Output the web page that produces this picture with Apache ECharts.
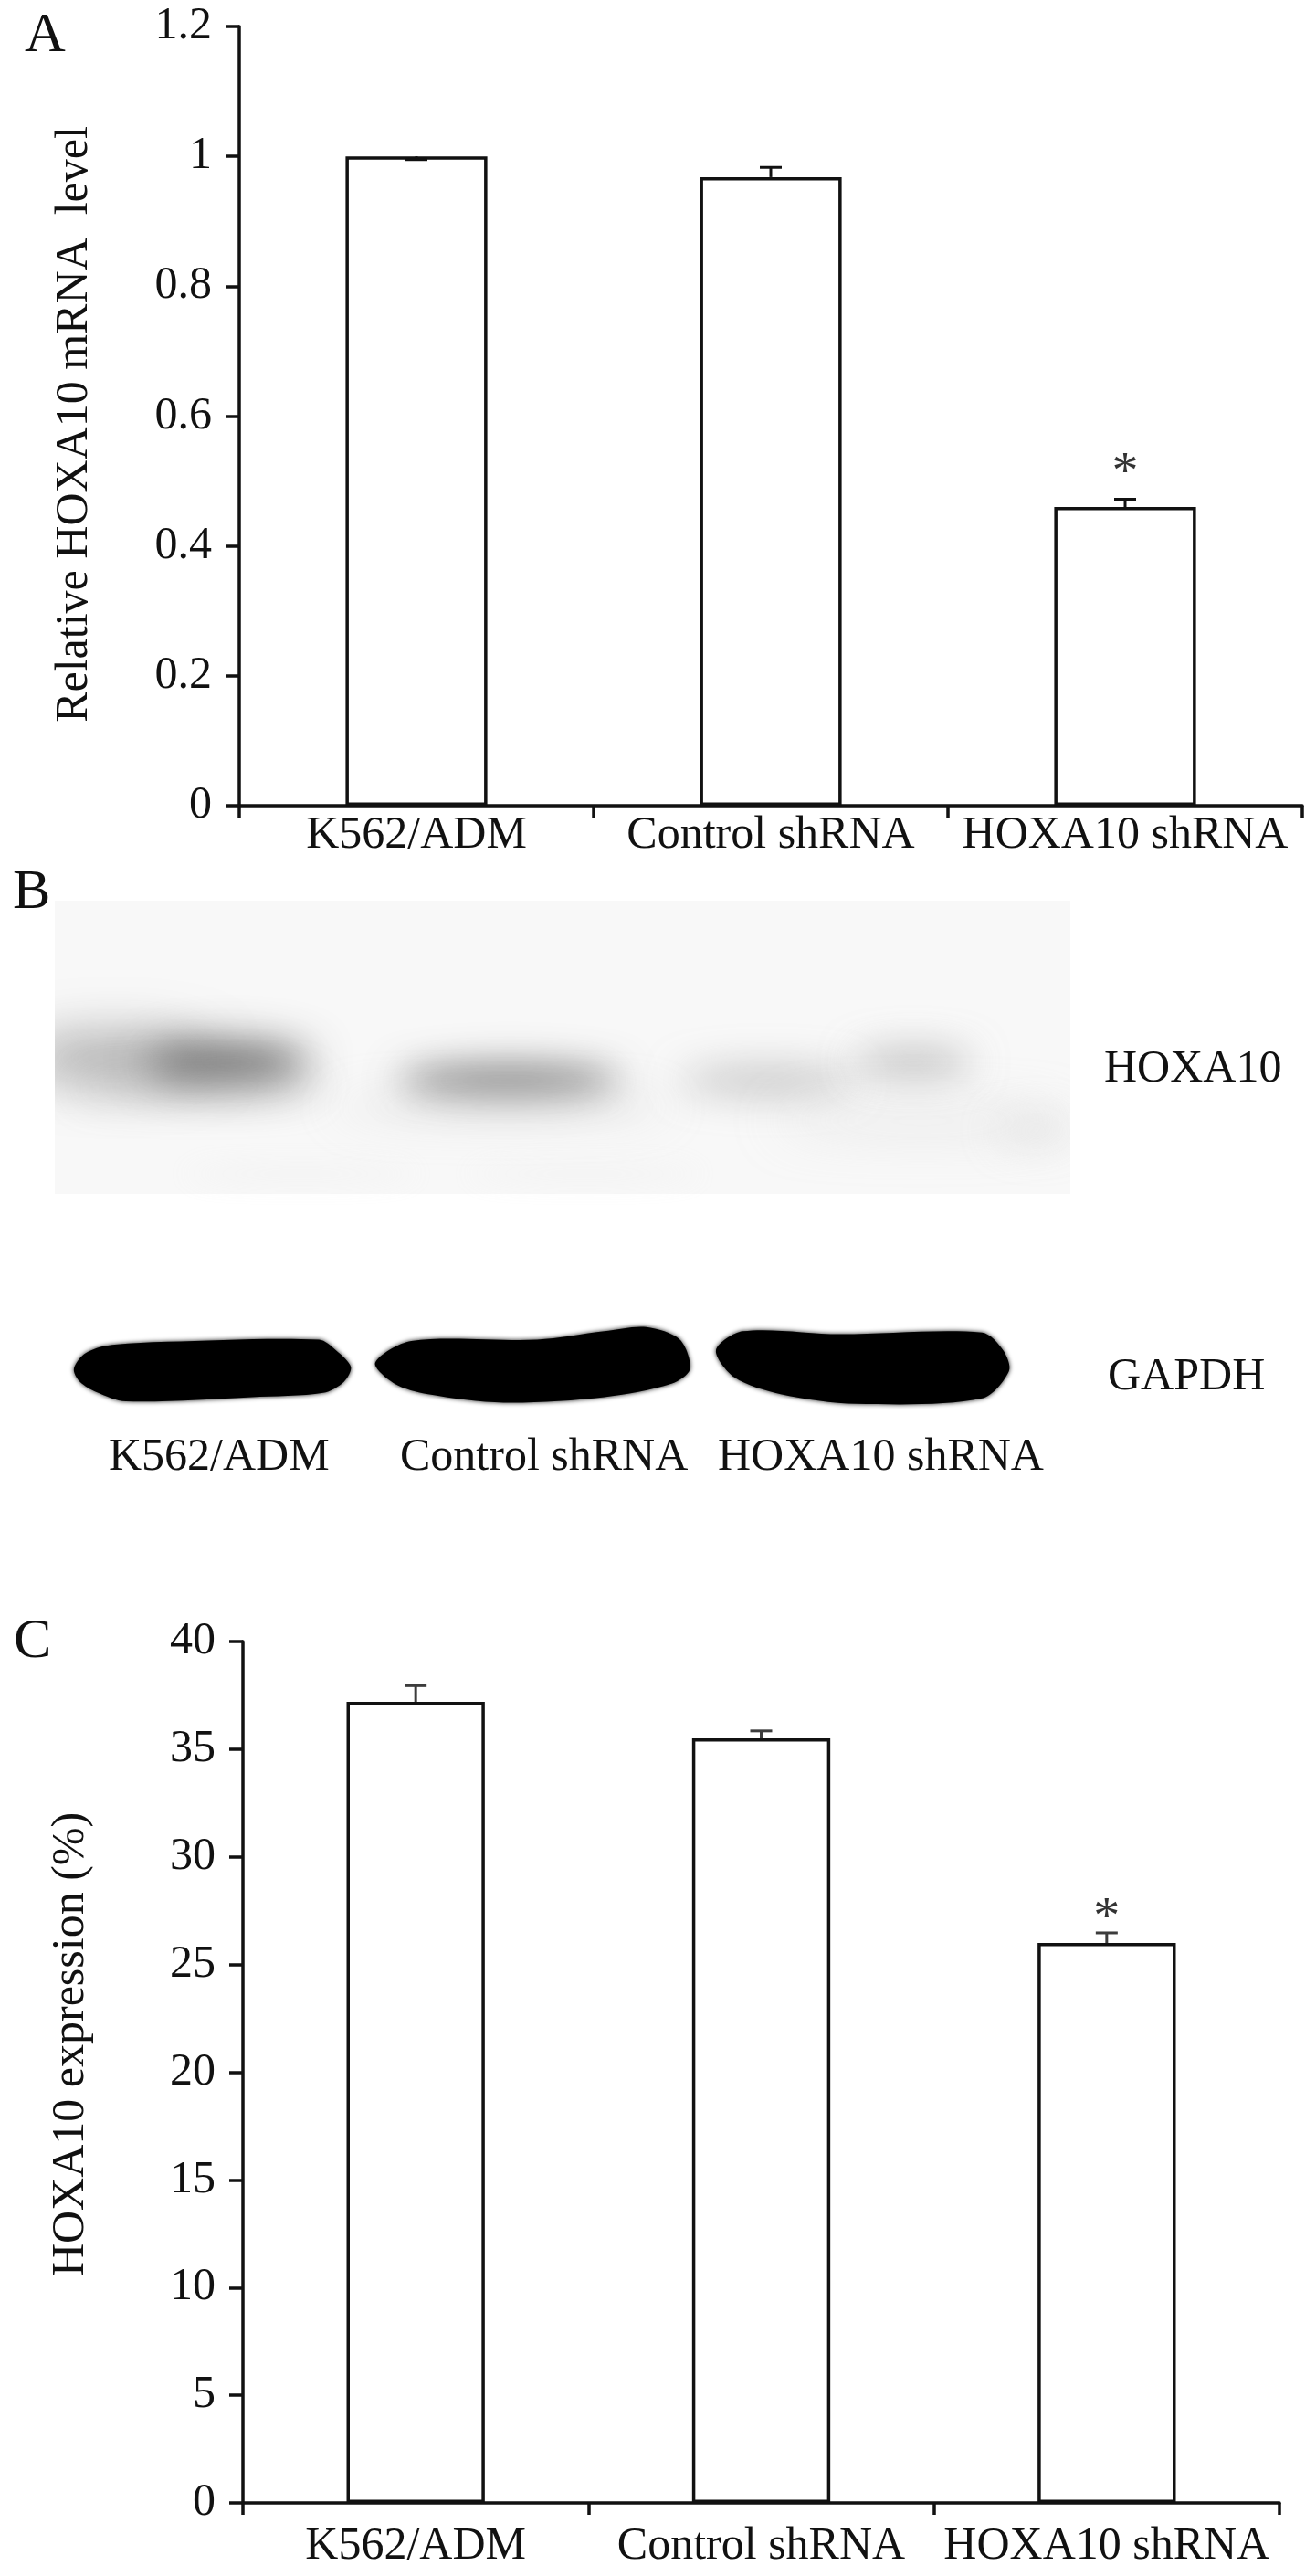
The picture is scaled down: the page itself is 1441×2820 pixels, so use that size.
<!DOCTYPE html>
<html><head><meta charset="utf-8">
<style>html,body{margin:0;padding:0;background:#fff}#c{width:1441px;height:2820px}</style>
<script src="https://cdn.jsdelivr.net/npm/echarts@6/dist/echarts.min.js"></script>
</head><body><div id="c"></div>
<script>
const categories = ['K562/ADM', 'Control shRNA', 'HOXA10 shRNA'];
const mrnaValues = [1.0, 0.968, 0.46];
const mrnaErrorEnds = [0.995, 0.983, 0.472];
const mrnaStarY = [null, null, 0.511];
const proteinValues = [37.2, 35.5, 26.0];
const proteinErrorEnds = [37.95, 35.85, 26.47];
const proteinStarY = [null, null, 27.13];
const blotLabels = ['K562/ADM', 'Control shRNA', 'HOXA10 shRNA'];

const FONT = '"Liberation Serif", "Times New Roman", serif';
const INK = '#111111';
const LW = 3.5;

function yAxisOf(gridIndex, max, interval, name, gap, padding) {
  return {
    type: 'value', gridIndex, min: 0, max, interval, name,
    nameLocation: 'middle', nameGap: gap, nameRotate: 90,
    nameTextStyle: { fontFamily: FONT, fontSize: 50, color: INK, padding },
    axisLine: { show: true, lineStyle: { color: INK, width: LW } },
    axisTick: { show: true, length: 15, lineStyle: { color: INK, width: LW } },
    axisLabel: { fontFamily: FONT, fontSize: 50, color: INK, margin: 30 },
    splitLine: { show: false }
  };
}
function xAxisOf(gridIndex, margin) {
  return {
    type: 'category', gridIndex, data: categories,
    axisLine: { show: true, onZero: false, lineStyle: { color: INK, width: LW } },
    axisTick: { show: true, length: 13, lineStyle: { color: INK, width: LW } },
    axisLabel: { fontFamily: FONT, fontSize: 50, color: INK, margin, interval: 0 },
    splitLine: { show: false }
  };
}
function barOf(i, values) {
  return {
    type: 'bar', xAxisIndex: i, yAxisIndex: i, data: values, barWidth: '40%',
    itemStyle: { color: '#fff', borderColor: INK, borderWidth: LW }
  };
}
function errorOf(i, values, ends, stroke) {
  return {
    type: 'custom', xAxisIndex: i, yAxisIndex: i, z: 5,
    data: values.map((v, k) => [k, v, ends[k]]),
    encode: { x: 0, y: [1, 2] },
    renderItem(params, api) {
      const a = api.coord([api.value(0), api.value(1)]);
      const b = api.coord([api.value(0), api.value(2)]);
      const style = { stroke, lineWidth: 3, fill: null };
      return { type: 'group', children: [
        { type: 'line', shape: { x1: a[0], y1: a[1], x2: b[0], y2: b[1] }, style },
        { type: 'line', shape: { x1: a[0] - 12, y1: b[1], x2: a[0] + 12, y2: b[1] }, style }
      ] };
    }
  };
}
function starOf(i, ys) {
  return {
    type: 'scatter', xAxisIndex: i, yAxisIndex: i, z: 6, symbolSize: 1, silent: true,
    itemStyle: { color: 'transparent' },
    data: ys.map((y, k) => [k, y]).filter(d => d[1] !== null),
    label: { show: true, formatter: '*', position: 'inside', fontFamily: FONT, fontSize: 58, color: '#000' }
  };
}

// Western blot image (panel B), redrawn as soft shapes
const OFF = 3000;
function blob(cx, cy, rx, ry, color, blur) {
  return { type: 'ellipse', silent: true, z: 1,
    shape: { cx: cx - OFF, cy, rx, ry },
    style: { fill: '#000', shadowColor: color, shadowBlur: blur, shadowOffsetX: OFF } };
}
function zx(v) { return v / 1.088; }
function zy(v) { return 950 + v / 2.178; }
function gapdh(points) {
  return { type: 'polygon', silent: true, z: 2,
    shape: { points: points.map(p => [zx(p[0]), zy(p[1])]), smooth: 0.3 },
    style: { fill: '#000', shadowColor: 'rgba(0,0,0,0.9)', shadowBlur: 5 } };
}
function txt(text, x, baseline, size, align) {
  return { type: 'text', silent: true, z: 10, x, y: baseline - 0.8 * size,
    style: { text, fontFamily: FONT, fontSize: size, fill: INK, align: align || 'left', verticalAlign: 'top' } };
}
const graphics = [
  { type: 'rect', silent: true, z: 0, shape: { x: 60, y: 986, width: 1112, height: 321 }, style: { fill: '#f8f8f8' } },
  blob(125, 1158, 105, 23, 'rgba(115,115,115,0.65)', 55),
  blob(250, 1164, 90, 21, 'rgba(70,70,70,0.85)', 46),
  blob(215, 1190, 135, 10, 'rgba(150,150,150,0.45)', 44),
  blob(558, 1183, 122, 16, 'rgba(90,90,90,0.8)', 40),
  blob(550, 1212, 190, 12, 'rgba(190,190,190,0.3)', 50),
  blob(840, 1183, 95, 14, 'rgba(155,155,155,0.6)', 42),
  blob(1000, 1163, 65, 15, 'rgba(155,155,155,0.62)', 40),
  blob(1010, 1227, 165, 13, 'rgba(205,205,205,0.4)', 54),
  blob(1135, 1238, 45, 14, 'rgba(205,205,205,0.4)', 44),
  blob(330, 1285, 130, 6, 'rgba(225,225,225,0.3)', 30),
  blob(640, 1285, 130, 6, 'rgba(225,225,225,0.3)', 30),
  { type: 'rect', silent: true, z: 3, shape: { x: 0, y: 986, width: 60, height: 321 }, style: { fill: '#fff' } },
  { type: 'rect', silent: true, z: 3, shape: { x: 1172, y: 986, width: 269, height: 321 }, style: { fill: '#fff' } },
  gapdh([[88,1195],[100,1160],[125,1140],[200,1130],[380,1125],[400,1150],[418,1190],[410,1225],[385,1252],[300,1262],[150,1272],[115,1250],[95,1225]]),
  gapdh([[447,1180],[490,1128],[640,1125],[720,1105],[770,1095],[810,1125],[822,1195],[800,1230],[720,1262],[600,1275],[510,1255],[470,1230]]),
  gapdh([[853,1150],[885,1105],[1000,1112],[1170,1108],[1195,1150],[1202,1200],[1170,1265],[1020,1278],[930,1255],[875,1215]]),
  txt('A', 27, 58, 62),
  txt('B', 14, 996, 62),
  txt('C', 15, 1816, 62),
  txt('HOXA10', 1209, 1186, 50),
  txt('GAPDH', 1213, 1523, 50),
  txt(blotLabels[0], 119, 1611, 50),
  txt(blotLabels[1], 438, 1611, 50),
  txt(blotLabels[2], 786, 1611, 50)
];

const chart = echarts.init(document.getElementById('c'), null, { renderer: 'canvas' });
chart.setOption({
  animation: false,
  backgroundColor: '#fff',
  tooltip: { show: false },
  grid: [
    { left: 262, top: 29, width: 1164, height: 853 },
    { left: 266, top: 1797, width: 1135, height: 943 }
  ],
  xAxis: [xAxisOf(0, 8), xAxisOf(1, 23)],
  yAxis: [
    yAxisOf(0, 1.2, 0.2, 'Relative HOXA10 mRNA  level', 155, [0, 18, 0, 0]),
    yAxisOf(1, 40, 5, 'HOXA10 expression (%)', 163, [0, 0, 0, 61])
  ],
  series: [
    barOf(0, mrnaValues), errorOf(0, mrnaValues, mrnaErrorEnds, INK), starOf(0, mrnaStarY),
    barOf(1, proteinValues), errorOf(1, proteinValues, proteinErrorEnds, '#3c3c3c'), starOf(1, proteinStarY)
  ],
  graphic: graphics
});
</script></body></html>
